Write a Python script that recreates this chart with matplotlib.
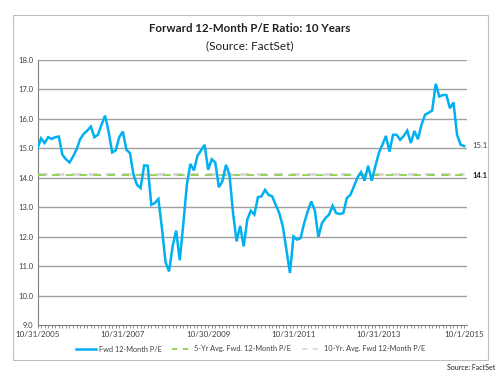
import matplotlib
matplotlib.use("Agg")
import matplotlib.pyplot as plt
from matplotlib.patches import Rectangle
from matplotlib.lines import Line2D

plt.rcParams['font.family'] = ['Lato', 'DejaVu Sans']

pe_values = [
    15.00, 15.34, 15.18, 15.38, 15.32, 15.38, 15.40, 14.78, 14.63, 14.52,
    14.72, 14.97, 15.31, 15.49, 15.60, 15.74, 15.38, 15.46, 15.80, 16.11,
    15.57, 14.86, 14.93, 15.38, 15.57, 14.95, 14.84, 14.10, 13.76, 13.65,
    14.42, 14.41, 13.08, 13.14, 13.28, 12.29, 11.14, 10.82, 11.67, 12.21,
    11.20, 12.41, 13.76, 14.47, 14.25, 14.75, 14.93, 15.12, 14.27, 14.63,
    14.52, 13.68, 13.88, 14.44, 14.10, 12.80, 11.84, 12.37, 11.67, 12.58,
    12.88, 12.75, 13.34, 13.37, 13.59, 13.42, 13.37, 13.08, 12.80, 12.35,
    11.56, 10.77, 12.01, 11.90, 11.95, 12.46, 12.86, 13.20, 12.89, 11.99,
    12.46, 12.63, 12.75, 13.05, 12.80, 12.77, 12.80, 13.31, 13.42, 13.71,
    14.01, 14.19, 13.90, 14.41, 13.90, 14.38, 14.84, 15.12, 15.42, 14.89,
    15.46, 15.46, 15.29, 15.42, 15.60, 15.18, 15.59, 15.31, 15.80, 16.14,
    16.21, 16.28, 17.19, 16.76, 16.81, 16.81, 16.36, 16.56, 15.46, 15.12,
    15.08,
]
avg_5yr = 14.08
avg_10yr = 14.14
tick_labels = ["10/31/2005", "10/31/2007", "10/30/2009", "10/31/2011", "10/31/2013", "10/1/2015"]
series_names = ["Fwd 12-Month P/E", "5-Yr Avg. Fwd. 12-Month P/E", "10-Yr. Avg. Fwd 12-Month P/E"]
title = "Forward 12-Month P/E Ratio: 10 Years"
subtitle = "(Source: FactSet)"

W, H = 500, 375
fig = plt.figure(figsize=(5, 3.75), dpi=100)
fig.patch.set_facecolor("white")

# outer chart frame
fig.add_artist(Rectangle((13 / W, 1 - 360 / H), (488 - 13) / W, (360 - 15) / H,
                         transform=fig.transFigure, fill=False, edgecolor="#bfbfbf", lw=0.8))

ax = fig.add_axes([37.5 / W, 1 - 325 / H, (467 - 37.5) / W, (325 - 60) / H])
n = len(pe_values)
x = list(range(n))

blue = "#00b0f0"
green = "#92d050"
gray = "#d9d9d9"

for v in [10, 11, 12, 13, 14, 15, 16, 17, 18]:
    ax.axhline(v, color="#a0a0a0", lw=1.0, zorder=1)

ax.plot(x, [avg_10yr] * n, color=gray, lw=2.2, dashes=(3, 2.5), zorder=2)
ax.plot(x, [avg_5yr] * n, color=green, lw=1.3, dashes=(4.2, 3.5), zorder=3)
ax.plot(x, pe_values, color=blue, lw=1.8, zorder=4, solid_joinstyle="miter")

ax.set_xlim(0, 120.8)
ax.set_ylim(9.0, 18.0)
ax.set_yticks([9, 10, 11, 12, 13, 14, 15, 16, 17, 18])
ax.set_yticklabels([f"{v:.1f}" for v in range(9, 19)])
ax.set_xticks(list(range(0, n, 24)))
ax.set_xticklabels(tick_labels)
ax.set_xticks(list(range(0, n)), minor=True)
ax.tick_params(axis="x", which="both", direction="out", length=2, width=0.6, color="#808080",
               labelsize=5.8, labelcolor="#404040", pad=2)
ax.tick_params(axis="y", which="both", length=0, labelsize=5.5, labelcolor="#404040", pad=3)
for s in ["top", "right"]:
    ax.spines[s].set_visible(False)
ax.spines["left"].set_color("#808080")
ax.spines["bottom"].set_color("#808080")
ax.spines["left"].set_linewidth(0.8)
ax.spines["bottom"].set_linewidth(0.8)

last = pe_values[-1]
ax.annotate(f"{last:.1f}", xy=(n - 1, last), xytext=(6, 0), textcoords="offset points",
            fontsize=5.5, color="#404040", va="center", ha="left", annotation_clip=False)
ax.annotate(f"{(avg_5yr + avg_10yr) / 2:.1f}", xy=(n - 1, avg_5yr), xytext=(6, 0), textcoords="offset points",
            fontsize=5.5, color="#202020", fontweight="bold", va="center", ha="left", annotation_clip=False)

fig.text(0.5, 1 - 29 / H, title, ha="center", va="center", fontsize=8.3, fontweight="bold", color="#202020")
fig.text(0.5, 1 - 46 / H, subtitle, ha="center", va="center", fontsize=8.5, color="#202020")

handles = [
    Line2D([], [], color=blue, lw=1.8),
    Line2D([], [], color=green, lw=1.3, dashes=(3, 3)),
    Line2D([], [], color=gray, lw=1.3, dashes=(3, 3)),
]
fig.legend(handles, series_names, loc="center", bbox_to_anchor=(251 / W, 1 - 349 / H), ncol=3,
           frameon=False, fontsize=5.3, handlelength=2.7, handletextpad=0.3, columnspacing=1.5,
           labelcolor="#404040")

fig.text(495 / W, 1 - 368 / H, "Source: FactSet", ha="right", va="center", fontsize=5, color="#202020")

fig.savefig("out.png", dpi=100, facecolor="white")
